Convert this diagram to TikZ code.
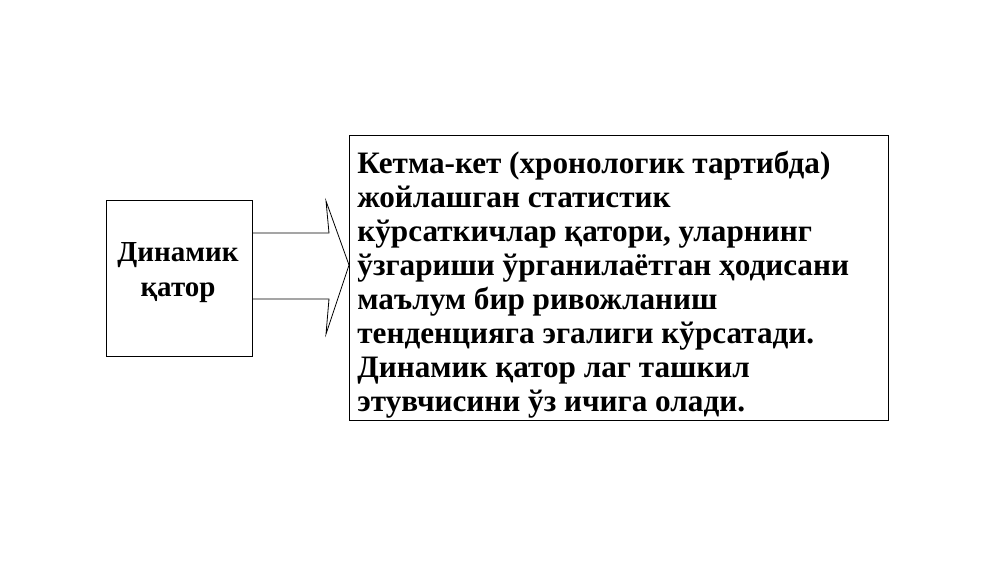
\documentclass[tikz,border=0pt]{standalone}
\usepackage{fontspec}
\setmainfont{Liberation Serif}
\begin{document}
\begin{tikzpicture}[x=1pt, y=-1pt, line width=0.8pt,
  box/.style={draw, rectangle, inner sep=0pt},
  txt/.style={font=\bfseries\fontsize{31.2}{33.9}\selectfont, inner sep=0pt}]

\useasboundingbox (0,0) rectangle (1000,562);

\node[box, minimum width=146pt, minimum height=156pt] at (179,278) (term) {};
\node[txt, font=\bfseries\fontsize{29}{35}\selectfont, align=center] at (178,273) (termtext) {Динамик\\қатор};

\node[box, minimum width=539pt, minimum height=285pt, anchor=north west] at (349,135) (def) {};
\node[txt, align=left, anchor=north west] at (357,151) (deftext) {Кетма-кет (хронологик тартибда)\\
жойлашган статистик\\
кўрсаткичлар қатори, уларнинг\\
ўзгариши ўрганилаётган ҳодисани\\
маълум бир ривожланиш\\
тенденцияга эгалиги кўрсатади.\\
Динамик қатор лаг ташкил\\
этувчисини ўз ичига олади.};

\coordinate (tip) at (def.west |- 0,265);
\draw[line join=miter] (term.east |- 0,233) -- (329,233) -- (326,201) -- (tip) -- (326,334) -- (329,299) -- (term.east |- 0,299);

\end{tikzpicture}
\end{document}
